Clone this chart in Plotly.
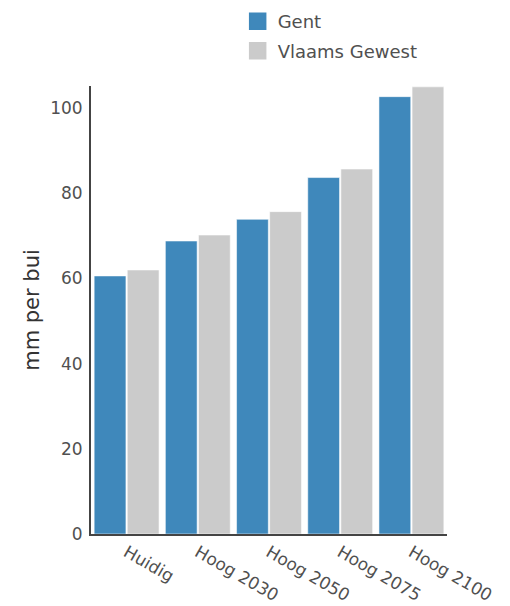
import plotly.graph_objects as go

scenarios = ["Huidig", "Hoog 2030", "Hoog 2050", "Hoog 2075", "Hoog 2100"]
gent = [60.6, 68.8, 73.9, 83.7, 102.7]
vlaams_gewest = [62.0, 70.2, 75.7, 85.7, 105.0]
series_names = ["Gent", "Vlaams Gewest"]
series_colors = ["#3f88bb", "#cbcbcb"]

font_family = "DejaVu Sans"
text_color = "#505050"

fig = go.Figure()
for name, values, color in zip(series_names, [gent, vlaams_gewest], series_colors):
    fig.add_trace(go.Bar(
        x=scenarios, y=values, name=name, legendgroup=name, showlegend=False,
        marker=dict(color=color, line=dict(color="rgba(255,255,255,0.55)", width=1)),
    ))
    # legend entry with a larger square swatch
    fig.add_trace(go.Scatter(
        x=[None], y=[None], name=name, legendgroup=name, mode="markers",
        marker=dict(symbol="square", size=16, color=color, line=dict(color=color, width=1.5)),
    ))

fig.update_layout(
    width=510, height=606,
    margin=dict(l=91, r=63, t=86, b=72, autoexpand=False),
    paper_bgcolor="white", plot_bgcolor="white",
    font=dict(family=font_family, size=17, color=text_color),
    barmode="group", bargap=0.07, bargroupgap=0.04,
    showlegend=True,
    legend=dict(
        x=0.412, y=1.185, xanchor="left", yanchor="top",
        font=dict(family=font_family, size=18, color=text_color),
        bgcolor="rgba(0,0,0,0)", tracegroupgap=3,
    ),
    xaxis=dict(
        showline=True, linecolor="#444", linewidth=2,
        showgrid=False, ticks="", tickangle=30,
        tickfont=dict(family=font_family, size=17, color=text_color),
    ),
    yaxis=dict(
        range=[0, 105.2], autorange=False,
        showline=True, linecolor="#444", linewidth=2,
        showgrid=False, zeroline=False, ticks="",
        dtick=20, ticklabelstandoff=3,
        tickfont=dict(family=font_family, size=17, color=text_color),
        title=dict(text="mm per bui", font=dict(family=font_family, size=21, color="#333"), standoff=5),
    ),
)

fig.write_html("out.html")
